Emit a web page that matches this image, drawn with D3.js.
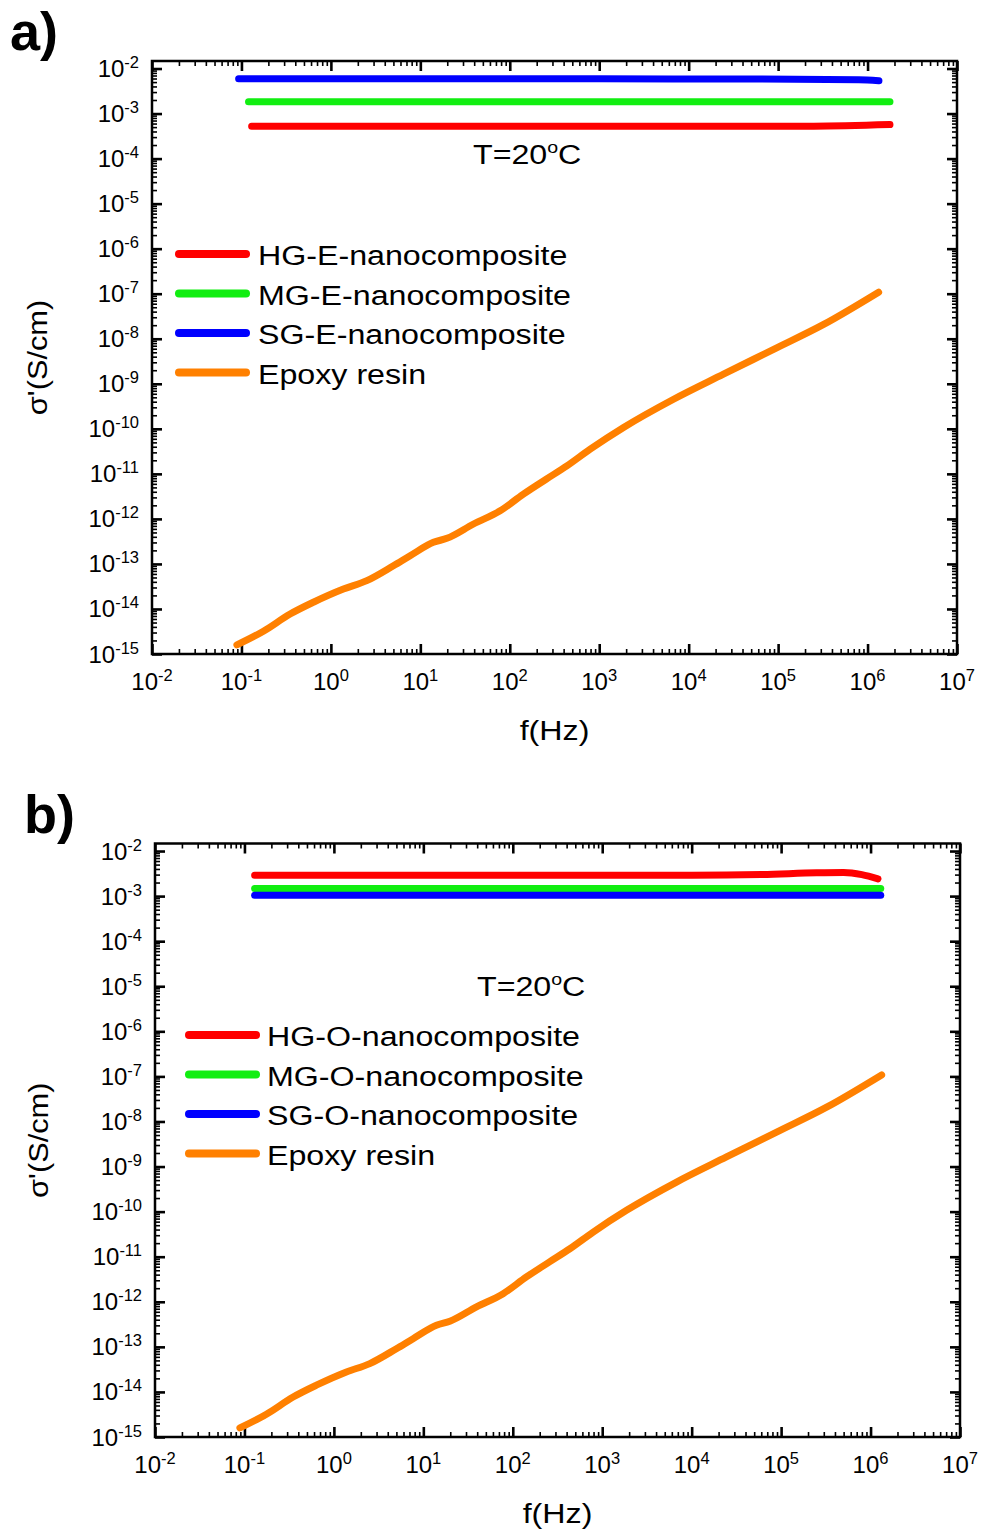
<!DOCTYPE html>
<html>
<head>
<meta charset="utf-8">
<script src="https://cdn.jsdelivr.net/npm/d3@7"></script>
<style>
  body { margin: 0; background: #fff; }
  svg { display: block; }
  text { font-family: Arial, "Liberation Sans", sans-serif; fill: #000; }
</style>
</head>
<body>
<svg id="chart" width="982" height="1533"></svg>
<script>
// AC conductivity σ' (S/cm) versus frequency f (Hz) at T = 20 °C

// Neat epoxy resin (same sample shown in both panels)
const epoxyFreq  = [0.089, 0.176, 0.35, 0.637, 1.38, 2.52, 5.0, 7.69, 14.0, 19.8, 39.3, 78.1, 142, 255, 435, 793, 1870, 6780, 24500, 89100, 3.23e5, 1.33e6];
const epoxySigma = [1.59e-15, 3.2e-15, 7.7e-15, 1.41e-14, 2.77e-14, 4.25e-14, 9.1e-14, 1.52e-13, 3.01e-13, 3.7e-13, 7.7e-13, 1.51e-12, 3.55e-12, 7.6e-12, 1.5e-11, 3.53e-11, 1.07e-10, 4.53e-10, 1.63e-9, 5.82e-9, 2.08e-8, 1.08e-7];

// Panel a: E-nanocomposites
const hgEFreq  = [0.13, 1e3, 2.5e5, 1.78e6];
const hgESigma = [5.2e-4, 5.2e-4, 5.25e-4, 5.7e-4];
const mgEFreq  = [0.12, 1e3, 1.78e6];
const mgESigma = [1.82e-3, 1.82e-3, 1.82e-3];
const sgEFreq  = [0.093, 1e3, 5e4, 8e5, 1.34e6];
const sgESigma = [5.9e-3, 5.9e-3, 5.85e-3, 5.6e-3, 5.35e-3];

// Panel b: O-nanocomposites
const hgOFreq  = [0.13, 1e4, 6e4, 2.5e5, 5e5, 8e5, 1.21e6];
const hgOSigma = [2.9e-3, 2.9e-3, 3.0e-3, 3.3e-3, 3.35e-3, 3.0e-3, 2.42e-3];
const mgOFreq  = [0.13, 1e4, 1.3e6];
const mgOSigma = [1.47e-3, 1.47e-3, 1.47e-3];
const sgOFreq  = [0.13, 1e4, 1.3e6];
const sgOSigma = [1.05e-3, 1.05e-3, 1.05e-3];

// Axis ticks
const xDecades = d3.range(-2, 8);      // 10^-2 … 10^7
const yDecades = d3.range(-15, -1);    // 10^-15 … 10^-2
const minorMult = d3.range(2, 10);

const colors = { hg: "#ff0000", mg: "#11ee11", sg: "#0000ff", epoxy: "#ff8000" };

const svg = d3.select("#chart");

const zip = (fs, ss) => fs.map((f, i) => ({ f, s: ss[i] }));

function drawPanel(p) {
  const g = svg.append("g");
  const x = d3.scaleLog().domain([1e-2, 1e7]).range([p.left, p.right]);
  const y = d3.scaleLog().domain([1e-15, Math.pow(10, -1.833)]).range([p.bottom, p.top]);

  const xMaj = xDecades.map(e => Math.pow(10, e));
  const xMin = xDecades.slice(0, -1).flatMap(e => minorMult.map(m => m * Math.pow(10, e)));
  const yMaj = yDecades.map(e => Math.pow(10, e));
  const yMin = yDecades.slice(0, -1).flatMap(e => minorMult.map(m => m * Math.pow(10, e)));

  function tickSet(axisFn, scale, vals, size, sw, tr) {
    g.append("g").attr("transform", tr)
      .call(axisFn(scale).tickValues(vals).tickSize(size).tickFormat(""))
      .call(s => s.select(".domain").remove())
      .selectAll("line").attr("stroke", "#000").attr("stroke-width", sw);
  }
  // inward ticks on all four sides
  tickSet(d3.axisBottom, x, xMin, -5, 1.6, `translate(0,${p.bottom})`);
  tickSet(d3.axisBottom, x, xMaj, -10, 2.6, `translate(0,${p.bottom})`);
  tickSet(d3.axisTop, x, xMin, -5, 1.6, `translate(0,${p.top})`);
  tickSet(d3.axisTop, x, xMaj, -10, 2.6, `translate(0,${p.top})`);
  tickSet(d3.axisLeft, y, yMin, -5, 1.6, `translate(${p.left},0)`);
  tickSet(d3.axisLeft, y, yMaj, -10, 2.6, `translate(${p.left},0)`);
  tickSet(d3.axisRight, y, yMin, -5, 1.6, `translate(${p.right},0)`);
  tickSet(d3.axisRight, y, yMaj, -10, 2.6, `translate(${p.right},0)`);

  g.append("rect")
    .attr("x", p.left).attr("y", p.top)
    .attr("width", p.right - p.left).attr("height", p.bottom - p.top)
    .attr("fill", "none").attr("stroke", "#000").attr("stroke-width", 2.5);

  // power-of-ten tick labels
  function powLabel(sel, exp) {
    sel.append("tspan").text("10");
    sel.append("tspan").attr("dy", -9).attr("font-size", 16.5).text(exp);
  }
  g.selectAll(".xlab").data(xDecades).join("text")
    .attr("x", d => x(Math.pow(10, d))).attr("y", p.bottom + 36)
    .attr("text-anchor", "middle").attr("font-size", 24)
    .each(function (d) { powLabel(d3.select(this), d); });
  g.selectAll(".ylab").data(yDecades).join("text")
    .attr("x", p.left - 13).attr("y", d => y(Math.pow(10, d)) + 8.5)
    .attr("text-anchor", "end").attr("font-size", 24)
    .each(function (d) { powLabel(d3.select(this), d); });

  // data curves
  const line = d3.line().x(d => x(d.f)).y(d => y(d.s)).curve(d3.curveMonotoneX);
  p.series.forEach(s => {
    g.append("path").datum(zip(s.f, s.s))
      .attr("d", line).attr("fill", "none")
      .attr("stroke", s.color).attr("stroke-width", 7)
      .attr("stroke-linecap", "round").attr("stroke-linejoin", "round");
  });

  // legend
  p.series.forEach((s, i) => {
    const ly = p.legend.y0 + i * p.legend.dy;
    g.append("line")
      .attr("x1", p.legend.x1).attr("x2", p.legend.x2).attr("y1", ly).attr("y2", ly)
      .attr("stroke", s.color).attr("stroke-width", 8).attr("stroke-linecap", "round");
    g.append("text")
      .attr("transform", `translate(${p.legend.tx},${ly + 11}) scale(1.15,1)`)
      .attr("font-size", 28).text(s.name);
  });

  // temperature note
  const tt = g.append("text")
    .attr("transform", `translate(${p.tempX},${p.tempY}) scale(1.15,1)`)
    .attr("font-size", 28);
  tt.append("tspan").text("T=20");
  tt.append("tspan").attr("dy", -11).attr("font-size", 17).text("o");
  tt.append("tspan").attr("dy", 11).text("C");

  // axis titles
  g.append("text")
    .attr("transform", `translate(${(p.left + p.right) / 2},${p.bottom + 86}) scale(1.15,1)`)
    .attr("text-anchor", "middle").attr("font-size", 28).text("f(Hz)");
  g.append("text")
    .attr("transform", `translate(${p.yTitleX},${(p.top + p.bottom) / 2}) rotate(-90) scale(1.1,1)`)
    .attr("text-anchor", "middle").attr("font-size", 28).text("σ'(S/cm)");

  // panel letter
  g.append("text").attr("x", p.tagX).attr("y", p.tagY)
    .attr("font-size", 54).attr("font-weight", "bold").text(p.tag);
}

drawPanel({
  left: 152, right: 957, top: 61, bottom: 654,
  tag: "a)", tagX: 10, tagY: 50,
  tempX: 473, tempY: 164, yTitleX: 47,
  legend: { x1: 179, x2: 246, tx: 258, y0: 254, dy: 39.5 },
  series: [
    { name: "HG-E-nanocomposite", color: colors.hg, f: hgEFreq, s: hgESigma },
    { name: "MG-E-nanocomposite", color: colors.mg, f: mgEFreq, s: mgESigma },
    { name: "SG-E-nanocomposite", color: colors.sg, f: sgEFreq, s: sgESigma },
    { name: "Epoxy resin", color: colors.epoxy, f: epoxyFreq, s: epoxySigma }
  ]
});

drawPanel({
  left: 155, right: 960, top: 843.5, bottom: 1437,
  tag: "b)", tagX: 24, tagY: 833,
  tempX: 477, tempY: 996, yTitleX: 48,
  legend: { x1: 189, x2: 256, tx: 267, y0: 1035, dy: 39.5 },
  series: [
    { name: "HG-O-nanocomposite", color: colors.hg, f: hgOFreq, s: hgOSigma },
    { name: "MG-O-nanocomposite", color: colors.mg, f: mgOFreq, s: mgOSigma },
    { name: "SG-O-nanocomposite", color: colors.sg, f: sgOFreq, s: sgOSigma },
    { name: "Epoxy resin", color: colors.epoxy, f: epoxyFreq, s: epoxySigma }
  ]
});
</script>
</body>
</html>
